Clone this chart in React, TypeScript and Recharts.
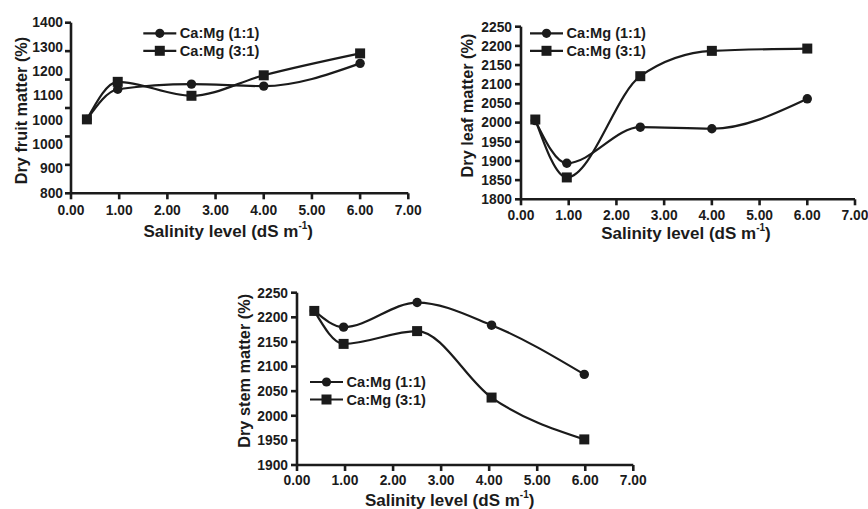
import React from 'react';
import { LineChart, Line, XAxis, YAxis, Label } from 'recharts';

const INK = '#1b1b1b';
const FONT = '"Liberation Sans", Arial, Helvetica, sans-serif';

const seriesNames = ['Ca:Mg (1:1)', 'Ca:Mg (3:1)'];
const xTicks = [0, 1, 2, 3, 4, 5, 6, 7];
const xTitleMain = 'Salinity level (dS m';
const xTitleSup = '-1';

// Dry fruit matter
const fruitX = [0.33, 0.97, 2.5, 4.0, 6.0];
const fruit11 = [1060, 1166, 1184, 1177, 1257];
const fruit31 = [1060, 1192, 1143, 1215, 1292];
const fruitTicks = [800, 900, 1000, 1100, 1200, 1300, 1400];
const fruitTickLabels = ['800', '900', '1000', '1000', '1100', '1200', '1300', '1400'];

// Dry leaf matter
const leafX = [0.3, 0.96, 2.5, 4.0, 6.0];
const leaf11 = [2005, 1894, 1988, 1984, 2062];
const leaf31 = [2008, 1857, 2121, 2187, 2193];
const leafTicks = [1800, 1850, 1900, 1950, 2000, 2050, 2100, 2150, 2200, 2250];

// Dry stem matter
const stemX = [0.36, 0.97, 2.5, 4.05, 5.98];
const stem11 = [2213, 2180, 2230, 2184, 2084];
const stem31 = [2213, 2146, 2172, 2037, 1952];
const stemTicks = [1900, 1950, 2000, 2050, 2100, 2150, 2200, 2250];

const TICK_FS = 13.8;
const tickStyle = { fill: INK, fontSize: TICK_FS, fontWeight: 700, fontFamily: FONT };
const axisLineStyle = { stroke: INK, strokeWidth: 2.6 };

const EmptyTick = () => <g />;

// Tick labels spread evenly along the axis (as printed in the source figure)
const makeSpreadLabels = (labels: string[], gap: number) => (props: any) => {
  const vb = props.viewBox || { x: 0, y: 0, width: 0, height: 0 };
  const n = labels.length;
  const right = vb.x + vb.width - gap;
  return (
    <g>
      {labels.map((t, j) => (
        <text
          key={j}
          x={right}
          y={vb.y + vb.height - (j * vb.height) / (n - 1)}
          textAnchor="end"
          dominantBaseline="central"
          fill={INK}
          fontSize={TICK_FS}
          fontWeight={700}
          fontFamily={FONT}
        >
          {t}
        </text>
      ))}
    </g>
  );
};

const CircleDot = (props: any) => {
  const { cx, cy, index } = props;
  if (cx == null || cy == null) return <g key={index} />;
  return <circle key={index} cx={cx} cy={cy} r={4.7} fill={INK} />;
};

const SquareDot = (props: any) => {
  const { cx, cy, index } = props;
  if (cx == null || cy == null) return <g key={index} />;
  return <rect key={index} x={cx - 5} y={cy - 5} width={10} height={10} fill={INK} />;
};

// Legend drawn inside the plot, anchored to the plot's top-left corner
const makeLegend = (dx: number, dy: number) => (props: any) => {
  const vb = props.viewBox || { x: 0, y: 0, width: 0, height: 0 };
  const x0 = vb.x + vb.width + dx;
  const y0 = vb.y + dy;
  return (
    <g>
      {seriesNames.map((name, i) => {
        const y = y0 + i * 17.5;
        return (
          <g key={i}>
            <line x1={x0} x2={x0 + 33} y1={y} y2={y} stroke={INK} strokeWidth={2.2} />
            {i === 0 ? (
              <circle cx={x0 + 16.5} cy={y} r={4.6} fill={INK} />
            ) : (
              <rect x={x0 + 11.5} y={y - 5} width={10} height={10} fill={INK} />
            )}
            <text
              x={x0 + 36.5}
              y={y}
              dominantBaseline="central"
              fill={INK}
              fontSize={14.6}
              fontWeight={700}
              fontFamily={FONT}
            >
              {name}
            </text>
          </g>
        );
      })}
    </g>
  );
};

const makeXTitle = (dx: number, dy: number) => (props: any) => {
  const vb = props.viewBox || { x: 0, y: 0, width: 0, height: 0 };
  return (
    <text
      x={vb.x + vb.width / 2 + dx}
      y={vb.y + dy}
      textAnchor="middle"
      dominantBaseline="central"
      fill={INK}
      fontSize={17}
      fontWeight={700}
      fontFamily={FONT}
    >
      {xTitleMain}
      <tspan dy={-6} fontSize={10}>
        {xTitleSup}
      </tspan>
      <tspan dy={6}>)</tspan>
    </text>
  );
};

const makeYTitle = (text: string, cxOff: number, dy: number) => (props: any) => {
  const vb = props.viewBox || { x: 0, y: 0, width: 0, height: 0 };
  const cx = vb.x + cxOff;
  const cy = vb.y + vb.height / 2 + dy;
  return (
    <text
      x={cx}
      y={cy}
      transform={`rotate(-90, ${cx}, ${cy})`}
      textAnchor="middle"
      dominantBaseline="central"
      fill={INK}
      fontSize={16.3}
      fontWeight={700}
      fontFamily={FONT}
    >
      {text}
    </text>
  );
};

type PanelProps = {
  left: number;
  top: number;
  width: number;
  height: number;
  marginTop: number;
  marginRight: number;
  yWidth: number;
  xHeight: number;
  xs: number[];
  s11: number[];
  s31: number[];
  domain: [number, number];
  yTicks: number[];
  yTickSize: number;
  yTickMargin: number;
  xTickMargin: number;
  yTitle: string;
  yTitleX: number;
  yTitleDy: number;
  xTitleDx: number;
  xTitleDy: number;
  legendDx: number;
  legendDy: number;
  customLabels?: string[];
};

function Panel(p: PanelProps) {
  const rows = p.xs.map((x, i) => ({ x, s11: p.s11[i], s31: p.s31[i] }));
  return (
    <div style={{ position: 'absolute', left: p.left, top: p.top, width: p.width, height: p.height }}>
      <LineChart
        width={p.width}
        height={p.height}
        data={rows}
        margin={{ top: p.marginTop, right: p.marginRight, left: 0, bottom: 0 }}
        style={{ overflow: 'visible' }}
      >
        <XAxis
          dataKey="x"
          type="number"
          domain={[0, 7]}
          ticks={xTicks}
          interval={0}
          tickFormatter={(v: number) => v.toFixed(2)}
          height={p.xHeight}
          tickSize={6}
          tickMargin={p.xTickMargin}
          axisLine={axisLineStyle}
          tickLine={axisLineStyle}
          tick={tickStyle}
        >
          <Label content={makeXTitle(p.xTitleDx, p.xTitleDy)} />
        </XAxis>
        <YAxis
          yAxisId="v"
          type="number"
          domain={p.domain}
          ticks={p.yTicks}
          interval={0}
          width={p.yWidth}
          tickSize={p.yTickSize}
          tickMargin={p.yTickMargin}
          axisLine={axisLineStyle}
          tickLine={axisLineStyle}
          tick={p.customLabels ? EmptyTick : tickStyle}
        >
          <Label content={makeYTitle(p.yTitle, p.yTitleX, p.yTitleDy)} />
          <Label content={makeLegend(p.legendDx, p.legendDy)} />
          {p.customLabels ? (
            <Label content={makeSpreadLabels(p.customLabels, p.yTickSize + p.yTickMargin)} />
          ) : null}
        </YAxis>
        <Line
          yAxisId="v"
          dataKey="s11"
          name={seriesNames[0]}
          type="monotone"
          stroke={INK}
          strokeWidth={2.2}
          dot={CircleDot}
          activeDot={false}
          isAnimationActive={false}
        />
        <Line
          yAxisId="v"
          dataKey="s31"
          name={seriesNames[1]}
          type="monotone"
          stroke={INK}
          strokeWidth={2.2}
          dot={SquareDot}
          activeDot={false}
          isAnimationActive={false}
        />
      </LineChart>
    </div>
  );
}

export default function App() {
  return (
    <div
      style={{
        position: 'absolute',
        left: 0,
        top: 0,
        width: 868,
        height: 509,
        background: '#fff',
        overflow: 'hidden',
      }}
    >
      <Panel
        left={0}
        top={0}
        width={430}
        height={250}
        marginTop={22.7}
        marginRight={21.7}
        yWidth={71}
        xHeight={56.7}
        xs={fruitX}
        s11={fruit11}
        s31={fruit31}
        domain={[800, 1400]}
        yTicks={fruitTicks}
        yTickSize={6}
        yTickMargin={2}
        xTickMargin={6}
        yTitle="Dry fruit matter (%)"
        yTitleX={21}
        yTitleDy={2.5}
        xTitleDx={-11.4}
        xTitleDy={38}
        legendDx={72.3}
        legendDy={10.6}
        customLabels={fruitTickLabels}
      />
      <Panel
        left={430}
        top={0}
        width={438}
        height={250}
        marginTop={26.7}
        marginRight={13}
        yWidth={91}
        xHeight={50.7}
        xs={leafX}
        s11={leaf11}
        s31={leaf31}
        domain={[1800, 2250]}
        yTicks={leafTicks}
        yTickSize={6}
        yTickMargin={3}
        xTickMargin={5}
        yTitle="Dry leaf matter (%)"
        yTitleX={36.5}
        yTitleDy={-7.5}
        xTitleDx={-2}
        xTitleDy={34}
        legendDx={9}
        legendDy={6.6}
      />
      <Panel
        left={220}
        top={250}
        width={440}
        height={259}
        marginTop={42.7}
        marginRight={26.7}
        yWidth={77}
        xHeight={44}
        xs={stemX}
        s11={stem11}
        s31={stem31}
        domain={[1900, 2250]}
        yTicks={stemTicks}
        yTickSize={6}
        yTickMargin={3}
        xTickMargin={4}
        yTitle="Dry stem matter (%)"
        yTitleX={24.5}
        yTitleDy={-8}
        xTitleDx={-15.5}
        xTitleDy={35}
        legendDx={13}
        legendDy={89.3}
      />
    </div>
  );
}
